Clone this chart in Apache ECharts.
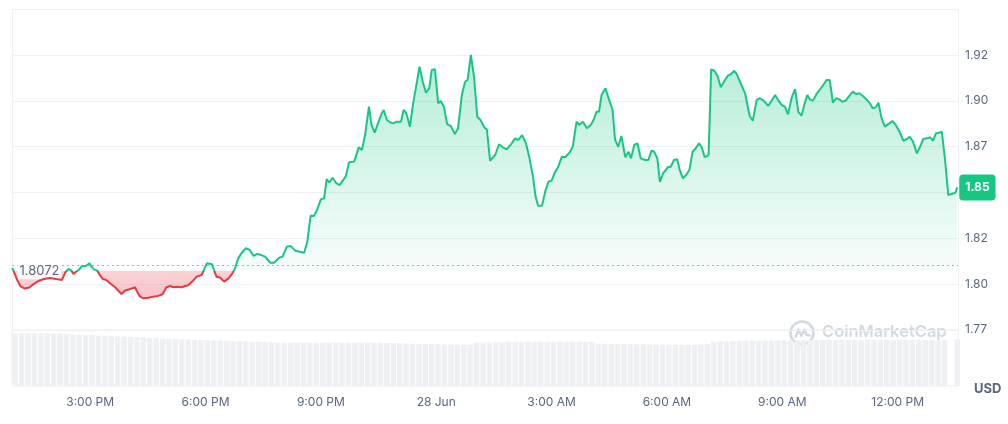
<!DOCTYPE html>
<html><head><meta charset="utf-8">
<script src="https://cdn.jsdelivr.net/npm/echarts@6/dist/echarts.min.js"></script>
<style>html,body{margin:0;padding:0;background:#fff}#c{width:1008px;height:424px}</style>
</head><body><div id="c"></div>
<script>
// Reference (open) price shown by the dotted line
const refPrice = 1.8072;

// Minutes after 12:00 PM, 27 Jun
const times = [
58,60,66,71,78,85,90,99,108,117,
127,136,141,146,150,154,158,163,167,170,
173,179,182,186,191,195,200,205,211,219,
224,229,234,241,246,250,254,258,263,271,
278,286,293,299,305,310,315,323,328,333,
340,346,354,362,370,377,383,389,396,402,
406,411,416,423,429,435,441,447,453,461,
467,475,480,487,493,500,507,514,519,524,
529,534,540,545,549,553,558,564,569,575,
579,584,592,595,599,604,609,615,619,624,
630,635,638,643,648,653,658,665,669,673,
679,684,694,699,704,709,713,718,723,727,
732,737,743,749,754,760,765,769,774,779,
784,789,795,799,804,812,818,824,830,836,
843,848,854,860,865,871,875,879,885,890,
895,900,905,910,916,921,928,933,939,943,
949,955,961,965,970,974,978,984,990,995,
999,1004,1009,1015,1020,1024,1029,1034,1039,1046,
1051,1056,1060,1065,1069,1074,1081,1086,1091,1096,
1100,1105,1110,1115,1120,1125,1130,1134,1139,1145,
1149,1154,1159,1164,1169,1175,1180,1185,1189,1194,
1202,1209,1214,1220,1225,1231,1238,1244,1249,1254,
1259,1264,1269,1275,1280,1285,1290,1295,1299,1303,
1308,1314,1319,1324,1329,1334,1339,1344,1349,1354,
1359,1365,1370,1375,1380,1386,1391,1396,1401,1406,
1410,1415,1420,1427,1432,1437,1443,1449,1454,1459,
1464,1470,1475,1480,1486,1491,1495,1500,1505,1509,
1514,1519,1524,1530,1533
];

// Price in USD
const prices = [
1.8087,1.8076,1.8022,1.7989,1.7975,1.7981,1.7995,1.8016,1.8027,1.8033,
1.8027,1.8022,1.8062,1.8082,1.8076,1.8055,1.8067,1.8080,1.8098,1.8104,
1.8098,1.8113,1.8094,1.8080,1.8073,1.8049,1.8027,1.8022,1.8004,1.7982,
1.7963,1.7945,1.7963,1.7971,1.7977,1.7982,1.7953,1.7931,1.7922,1.7925,
1.7931,1.7935,1.7944,1.7982,1.7989,1.7982,1.7985,1.7982,1.7989,1.7993,
1.8016,1.8040,1.8049,1.8113,1.8108,1.8040,1.8034,1.8013,1.8031,1.8058,
1.8086,1.8140,1.8168,1.8195,1.8186,1.8153,1.8164,1.8158,1.8149,1.8116,
1.8116,1.8144,1.8149,1.8204,1.8207,1.8182,1.8176,1.8171,1.8235,1.8373,
1.8371,1.8404,1.8462,1.8468,1.8572,1.8553,1.8580,1.8550,1.8540,1.8568,
1.8590,1.8664,1.8668,1.8677,1.8746,1.8731,1.8813,1.8968,1.8868,1.8826,
1.8886,1.8932,1.8950,1.8895,1.8883,1.8877,1.8886,1.8886,1.8950,1.8935,
1.8859,1.8986,1.9186,1.9104,1.9044,1.9068,1.9168,1.9172,1.8986,1.8999,
1.8968,1.8873,1.8862,1.8819,1.8850,1.9032,1.9104,1.9114,1.9250,1.9132,
1.8913,1.8895,1.8855,1.8844,1.8673,1.8704,1.8763,1.8746,1.8735,1.8759,
1.8795,1.8786,1.8813,1.8768,1.8695,1.8586,1.8477,1.8427,1.8427,1.8504,
1.8558,1.8564,1.8608,1.8637,1.8695,1.8692,1.8717,1.8749,1.8886,1.8868,
1.8886,1.8850,1.8868,1.8891,1.8940,1.8940,1.9032,1.9068,1.9004,1.8954,
1.8790,1.8749,1.8808,1.8692,1.8722,1.8686,1.8759,1.8768,1.8686,1.8677,
1.8677,1.8728,1.8722,1.8686,1.8558,1.8604,1.8637,1.8640,1.8677,1.8681,
1.8622,1.8577,1.8595,1.8622,1.8722,1.8741,1.8768,1.8749,1.8692,1.8704,
1.9172,1.9164,1.9135,1.9074,1.9104,1.9137,1.9146,1.9164,1.9146,1.9104,
1.9041,1.8917,1.8891,1.9004,1.9014,1.9001,1.8972,1.9004,1.9032,1.9001,
1.8977,1.8968,1.8926,1.9022,1.9063,1.8940,1.8919,1.8986,1.9032,1.9008,
1.9001,1.9041,1.9063,1.9086,1.9114,1.9114,1.8990,1.9014,1.9008,1.8995,
1.9001,1.9028,1.9050,1.9037,1.9041,1.9026,1.9008,1.8990,1.8959,1.8964,
1.8990,1.8904,1.8859,1.8877,1.8890,1.8868,1.8831,1.8782,1.8790,1.8804,
1.8777,1.8713,1.8749,1.8792,1.8795,1.8801,1.8782,1.8823,1.8826,1.8831,
1.8677,1.8486,1.8491,1.8498,1.8527
];

// Volume bars, one per 10-minute bucket (centre minute below), relative units
const volStartMin = 63;
const volStepMin = 10;
const volumes = [
52.7,52.7,52.8,52.7,52.6,52.7,52.6,52.5,52.3,51.6,
51.2,51.0,50.8,50.5,50.2,49.9,49.6,49.3,49.0,48.7,
48.5,48.2,47.9,47.6,47.3,47.0,46.8,46.5,46.2,45.9,
45.6,45.4,45.3,45.0,44.8,44.6,44.4,44.2,44.0,43.9,
43.7,43.5,43.4,43.3,43.3,43.3,43.3,43.3,43.3,43.3,
43.3,43.3,43.3,43.3,43.3,43.3,43.3,43.2,43.0,42.9,
42.7,42.5,42.3,42.1,42.0,41.9,41.8,41.6,41.5,41.4,
41.3,41.3,43.4,43.6,43.6,43.7,43.8,44.2,44.3,44.3,
44.3,44.4,44.3,44.3,44.4,44.3,44.3,44.2,44.3,44.2,
44.0,42.4,42.2,42.0,42.0,41.9,41.8,41.8,41.7,41.6,
41.5,41.4,41.3,41.2,41.1,41.0,41.2,41.5,41.8,44.3,
44.5,44.6,44.8,45.0,45.2,45.3,45.3,45.4,45.4,45.5,
45.5,45.8,46.0,46.0,46.0,46.0,46.0,46.1,46.0,46.0,
46.0,46.1,46.0,46.0,46.0,46.1,46.0,46.0,46.1,46.0,
46.0,46.1,46.0,46.1,46.0,46.0,null,46.7
];

// Axis ticks
const xTickMinutes = [180, 360, 540, 720, 900, 1080, 1260, 1440];
const xTickLabels = ['3:00 PM', '6:00 PM', '9:00 PM', '28 Jun', '3:00 AM', '6:00 AM', '9:00 AM', '12:00 PM'];
const xMin = 58, xMax = 1534.2;
const yMin = 1.75, yMax = 1.95, yStep = 0.025;
const volMax = 56.2;

const GREEN = '#16c784', RED = '#ea3943';
const TXT = '#58667e', GRIDC = '#eff1f4';
const FONT = 'Inter, "Noto Sans", sans-serif';

const priceData = times.map((t, i) => [t, prices[i]]);
const volData = volumes.map((v, i) => [volStartMin + i * volStepMin, v]);
const maxP = Math.max(...prices), minP = Math.min(...prices);

const chart = echarts.init(document.getElementById('c'), null, {renderer: 'canvas'});
const baseOption = {
  animation: false,
  textStyle: {fontFamily: FONT},
  grid: [
    {left: 12, right: 50, top: 9.2, height: 366.4, show: false},
    {left: 12, right: 50, top: 329.8, height: 56.2, show: true, borderColor: GRIDC, borderWidth: 1, backgroundColor: 'transparent'}
  ],
  xAxis: [
    {type: 'value', gridIndex: 0, min: xMin, max: xMax, show: false},
    {type: 'value', gridIndex: 1, min: xMin, max: xMax,
      axisLine: {show: false}, axisTick: {show: false}, splitLine: {show: false},
      axisLabel: {customValues: xTickMinutes, margin: 10, color: TXT, fontSize: 12, fontFamily: FONT,
        formatter: v => { const k = xTickMinutes.indexOf(Math.round(v)); return k >= 0 ? xTickLabels[k] : ''; }}
    }
  ],
  yAxis: [
    {type: 'value', gridIndex: 0, position: 'right', min: yMin, max: yMax, interval: yStep,
      axisLine: {show: true, lineStyle: {color: GRIDC}}, axisTick: {show: false},
      splitLine: {show: true, showMinLine: false, lineStyle: {color: GRIDC, width: 1}},
      axisLabel: {margin: 7, color: TXT, fontSize: 12, fontFamily: FONT,
        formatter: v => (v < yMin + yStep / 2 || v > yMax - yStep / 2) ? '' : (Math.floor(v * 100 + 1e-6) / 100).toFixed(2)}
    },
    {type: 'value', gridIndex: 0, position: 'left', min: yMin, max: yMax,
      axisLine: {show: true, lineStyle: {color: GRIDC}}, axisTick: {show: false},
      splitLine: {show: false}, axisLabel: {show: false}},
    {type: 'value', gridIndex: 1, min: 0, max: volMax, show: false}
  ],
  series: [
    {
      id: 'price', type: 'line', xAxisIndex: 0, yAxisIndex: 0, data: priceData,
      showSymbol: false, symbol: 'none', z: 5,
      lineStyle: {width: 2, color: GREEN},
      areaStyle: {origin: refPrice, color: 'rgba(22,199,132,0.15)', opacity: 1},
      endLabel: {
        show: true, distance: 2,
        formatter: p => p.value[1].toFixed(2),
        backgroundColor: GREEN, color: '#fff', fontWeight: 'bold', fontSize: 12, fontFamily: FONT,
        padding: [7, 6, 7, 6], borderRadius: 4
      },
      markLine: {
        silent: true, symbol: 'none',
        lineStyle: {type: [2, 3], color: '#a6b0c3', width: 1},
        label: {show: false},
        data: [{yAxis: refPrice}]
      },
      markPoint: {
        silent: true, symbol: 'rect', symbolSize: 1,
        itemStyle: {color: 'rgba(0,0,0,0)'},
        label: {show: true, position: 'right', distance: 5,
          formatter: () => refPrice.toFixed(4),
          color: TXT, fontSize: 13, fontFamily: FONT,
          backgroundColor: 'rgba(255,255,255,0.85)', padding: [2, 2]},
        data: [{coord: [times[0], refPrice]}]
      }
    },
    {
      type: 'bar', xAxisIndex: 1, yAxisIndex: 2, data: volData, clip: true,
      barCategoryGap: '15%', itemStyle: {color: '#eef0f4'}, silent: true, z: 2
    }
  ],
  graphic: [
    {type: 'group', left: 788, top: 319, silent: true, children: [
      {type: 'circle', shape: {cx: 13, cy: 13, r: 11.5}, style: {fill: 'none', stroke: '#d3d9e2', lineWidth: 2.6}},
      {type: 'polyline', shape: {points: [[6.5, 17], [9.5, 9.5], [12.5, 16], [15.5, 9.5], [17.5, 15], [20.5, 15.5]]},
        style: {fill: 'none', stroke: '#d3d9e2', lineWidth: 2.4, lineJoin: 'round', lineCap: 'round'}},
      {type: 'text', x: 33, y: 4, style: {text: 'CoinMarketCap', fill: '#d3d9e2', font: '600 16.5px ' + FONT}}
    ]},
    {type: 'text', left: 974, top: 383, silent: true,
      style: {text: 'USD', fill: TXT, font: 'bold 13px ' + FONT}}
  ]
};
chart.setOption(baseOption);

// Split colours at the reference price, using pixel positions from the axis scale
const yRef = chart.convertToPixel({yAxisIndex: 0}, refPrice);
const yHi = chart.convertToPixel({yAxisIndex: 0}, maxP);
const yLo = chart.convertToPixel({yAxisIndex: 0}, minP);
const tRef = (yRef - yHi) / (yLo - yHi);
const lineGrad = new echarts.graphic.LinearGradient(0, yHi, 0, yLo, [
  {offset: 0, color: GREEN}, {offset: tRef, color: GREEN},
  {offset: tRef, color: RED}, {offset: 1, color: RED}
], true);
const areaGrad = new echarts.graphic.LinearGradient(0, yHi, 0, yLo, [
  {offset: 0, color: 'rgba(22,199,132,0.32)'},
  {offset: tRef, color: 'rgba(22,199,132,0.03)'},
  {offset: tRef, color: 'rgba(234,57,67,0.22)'},
  {offset: 1, color: 'rgba(234,57,67,0.30)'}
], true);
chart.setOption({series: [{id: 'price', lineStyle: {color: lineGrad}, areaStyle: {color: areaGrad}}]});
</script></body></html>
